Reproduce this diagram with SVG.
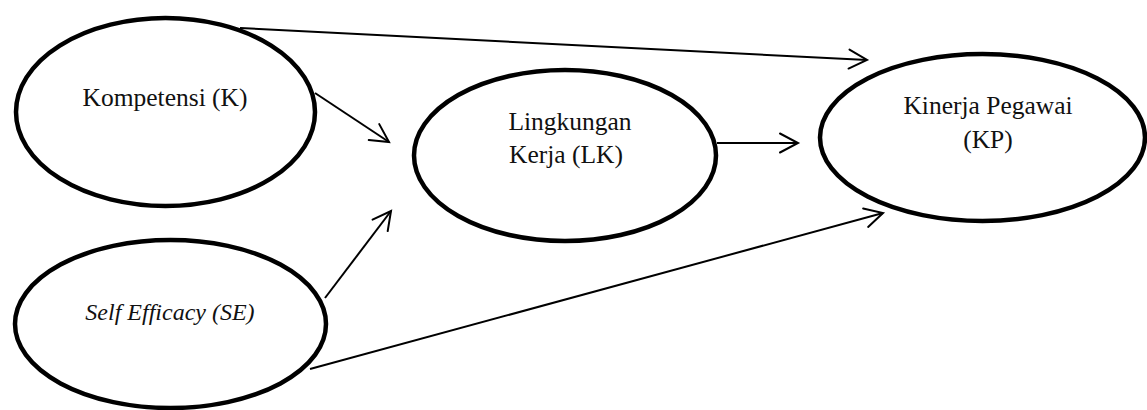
<svg xmlns="http://www.w3.org/2000/svg" width="1147" height="410" viewBox="0 0 1147 410">
  <style>
    .node { fill: #ffffff; stroke: #000000; stroke-width: 4.5; }
    .label { font-family: "Liberation Serif", "Times New Roman", serif; font-size: 25.5px; fill: #111111; text-anchor: middle; }
    .italic { font-style: italic; font-size: 24px; }
    .edge { fill: none; stroke: #000000; stroke-width: 2; marker-end: url(#arrow); }
  </style>
  <defs>
    <!-- open chevron arrowhead, fixed size in user units -->
    <marker id="arrow" markerUnits="userSpaceOnUse" orient="auto" overflow="visible" markerWidth="22" markerHeight="22" refX="0" refY="0" viewBox="-20 -11 22 22">
      <path d="M-18,-9.5 L0,0 L-18,9.5" fill="none" stroke="#000000" stroke-width="2" stroke-linecap="round" stroke-linejoin="miter"/>
    </marker>
  </defs>
  <rect width="1147" height="410" fill="#ffffff"/>

  <!-- connectors -->
  <g id="connectors">
    <line class="edge" x1="240" y1="28" x2="867" y2="60"/>
    <line class="edge" x1="315" y1="93" x2="389" y2="142"/>
    <line class="edge" x1="325" y1="298" x2="391" y2="211"/>
    <line class="edge" x1="310" y1="369" x2="883" y2="213"/>
    <line class="edge" x1="717" y1="143" x2="798" y2="143"/>
  </g>

  <!-- Kompetensi -->
  <g id="node-k">
    <ellipse class="node" cx="165.5" cy="112" rx="149.5" ry="94"/>
    <text class="label" x="165" y="106">Kompetensi (K)</text>
  </g>

  <!-- Self Efficacy -->
  <g id="node-se">
    <ellipse class="node" cx="170.5" cy="324" rx="155.5" ry="84"/>
    <text class="label italic" x="170" y="320">Self Efficacy (SE)</text>
  </g>

  <!-- Lingkungan Kerja -->
  <g id="node-lk">
    <ellipse class="node" cx="565" cy="155.5" rx="151" ry="85.5"/>
    <text class="label" x="570" y="130">Lingkungan</text>
    <text class="label" x="566" y="163">Kerja (LK)</text>
  </g>

  <!-- Kinerja Pegawai -->
  <g id="node-kp">
    <ellipse class="node" cx="982.5" cy="137.5" rx="162.5" ry="83.5"/>
    <text class="label" x="988" y="114">Kinerja Pegawai</text>
    <text class="label" x="988" y="148">(KP)</text>
  </g>
</svg>
